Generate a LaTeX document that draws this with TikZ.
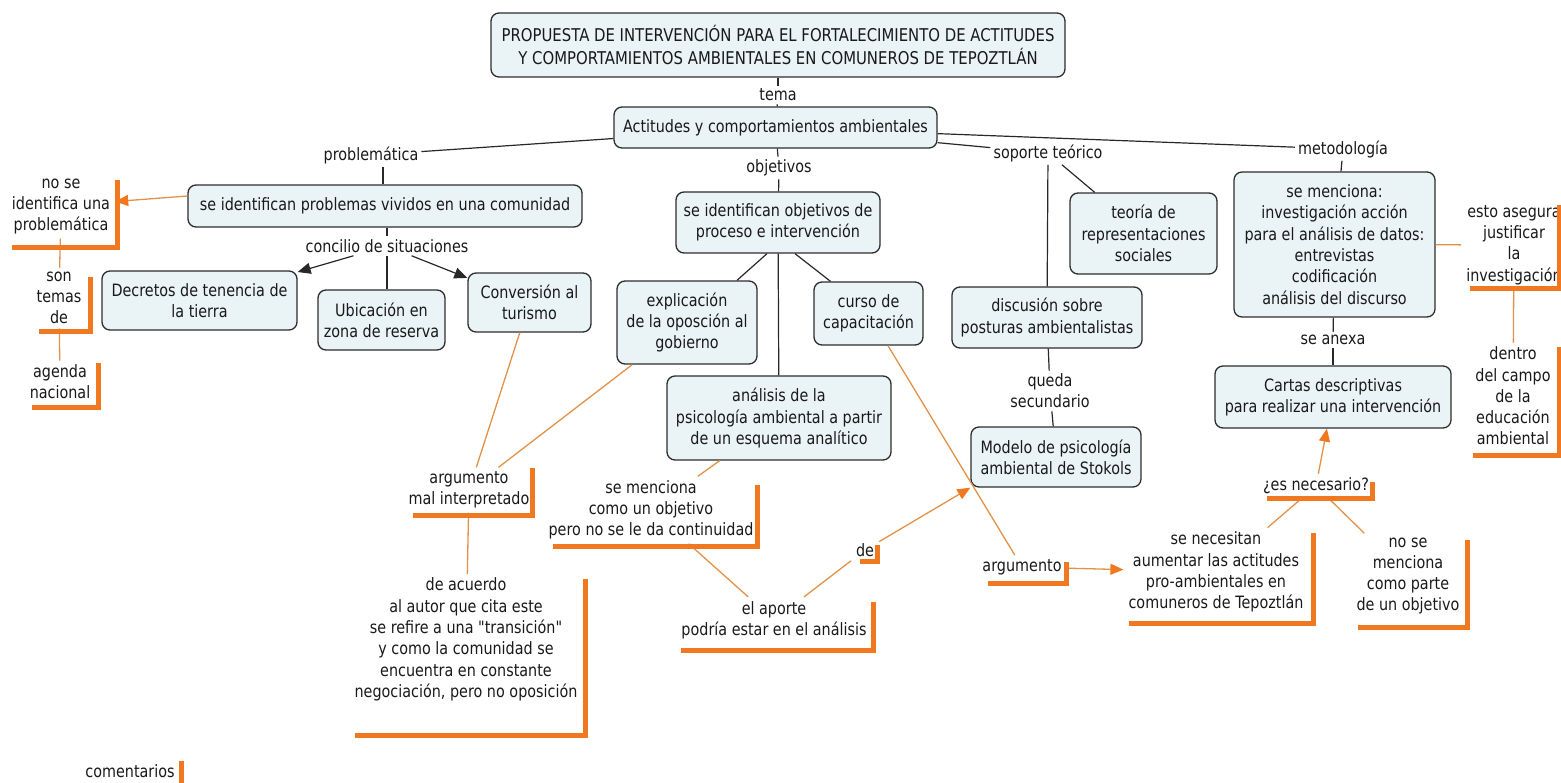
\documentclass[tikz,border=0pt]{standalone}
\usepackage{fontspec}
\setmainfont[FakeStretch=0.845, Ligatures=TeXOff]{DejaVu Sans}
\usetikzlibrary{arrows.meta,calc}
\definecolor{boxfill}{RGB}{234,243,246}
\definecolor{boxline}{RGB}{45,45,45}
\definecolor{txt}{RGB}{25,25,25}
\definecolor{obarc}{RGB}{240,120,32}
\definecolor{olinec}{RGB}{226,146,72}
\definecolor{blinec}{RGB}{40,40,40}
\newcommand{\obr}[4]{\draw[obarst] (#1,#2) -- (#1,#3) -- (#4,#3);}
\begin{document}
\begin{tikzpicture}[x=1pt,y=-1pt,
  every node/.style={font=\fontsize{17}{21.3}\selectfont, text=txt},
  cbox/.style={draw=boxline, fill=boxfill, rounded corners=8pt, line width=1.3pt, align=center, inner sep=2pt},
  lab/.style={align=center, inner sep=3pt},
  olab/.style={align=center, inner xsep=5pt, inner ysep=4pt},
  bl/.style={draw=blinec, line width=1.2pt},
  ol/.style={draw=olinec, line width=1.3pt},
  barr/.style={-{Triangle[length=13pt,width=11pt]}},
  oarr/.style={-{Triangle[length=13pt,width=11pt,color=obarc]}},
  obarst/.style={draw=obarc, line width=5pt, line join=miter},
]
\path[use as bounding box] (0,0) rectangle (1561,782);
\clip (0,0) rectangle (1561,782);

% concept boxes
\node[cbox, minimum width=574, minimum height=64, font=\fontsize{17.6}{22.5}\selectfont] (title) at (778,45) {PROPUESTA DE INTERVENCIÓN PARA EL FORTALECIMIENTO DE ACTITUDES\\Y COMPORTAMIENTOS AMBIENTALES EN COMUNEROS DE TEPOZTLÁN};
\node[cbox, minimum width=323, minimum height=41] (act) at (775.5,127.5) {Actitudes y comportamientos ambientales};
\node[cbox, minimum width=394, minimum height=42] (prob) at (385,206) {se identifican problemas vividos en una comunidad};
\node[cbox, minimum width=204, minimum height=61] (objbox) at (778,222.5) {se identifican objetivos de\\proceso e intervención};
\node[cbox, minimum width=147, minimum height=81] (teoria) at (1143.5,233.5) {teoría de\\representaciones\\sociales};
\node[cbox, minimum width=201, minimum height=145] (metodbox) at (1334.5,244.5) {se menciona:\\investigación acción\\para el análisis de datos:\\entrevistas\\codificación\\análisis del discurso};
\node[cbox, minimum width=195, minimum height=59] (decretos) at (199.5,300.5) {Decretos de tenencia de\\la tierra};
\node[cbox, minimum width=127, minimum height=60] (ubic) at (381.5,320) {Ubicación en\\zona de reserva};
\node[cbox, minimum width=123, minimum height=59] (conv) at (529.5,302.5) {Conversión al\\turismo};
\node[cbox, minimum width=140, minimum height=83] (expl) at (687,322.5) {explicación\\de la oposción al\\gobierno};
\node[cbox, minimum width=109, minimum height=63] (curso) at (868.5,313.5) {curso de\\capacitación};
\node[cbox, minimum width=224, minimum height=84] (anal) at (779,418) {análisis de la\\psicología ambiental a partir\\de un esquema analítico};
\node[cbox, minimum width=190, minimum height=61] (discusion) at (1047,317.5) {discusión sobre\\posturas ambientalistas};
\node[cbox, minimum width=170, minimum height=60] (modelo) at (1056,457) {Modelo de psicología\\ambiental de Stokols};
\node[cbox, minimum width=236, minimum height=62] (cartas) at (1333,397) {Cartas descriptivas\\para realizar una intervención};

% black linking phrases
\node[lab] (tema) at (778,95) {tema};
\node[lab] (problematica) at (371,155) {problemática};
\node[lab] (objetivos) at (779,168) {objetivos};
\node[lab] (soporte) at (1048,153) {soporte teórico};
\node[lab] (metodologia) at (1343,149) {metodología};
\node[lab] (concilio) at (387,246) {concilio de situaciones};
\node[lab] (queda) at (1050,391) {queda\\secundario};
\node[lab] (anexa) at (1333,340) {se anexa};

% orange linking phrases
\node[olab] (noident) at (61,206.5) {no se\\identifica una\\problemática};
\node[olab] (sontemas) at (59,298) {son\\temas\\de};
\node[olab] (agenda) at (60,382) {agenda\\nacional};
\node[olab] (argmal) at (469,490) {argumento\\mal interpretado};
\node[olab] (deacuerdo) at (466,639.5) {de acuerdo\\al autor que cita este\\se refire a una "transición"\\y como la comunidad se\\encuentra en constante\\negociación, pero no oposición};
\node[olab] (semenciona) at (651,510) {se menciona\\como un objetivo\\pero no se le da continuidad};
\node[olab] (elaporte) at (774,620) {el aporte\\podría estar en el análisis};
\node[olab] (de) at (865,550) {de};
\node[olab] (argumento) at (1022,567) {argumento};
\node[olab] (esnec) at (1316,486) {¿es necesario?};
\node[olab] (senecesitan) at (1216,572) {se necesitan\\aumentar las actitudes\\pro-ambientales en\\comuneros de Tepoztlán};
\node[olab] (nosemenc) at (1408,576) {no se\\menciona\\como parte\\de un objetivo};
\node[olab] (esto) at (1514,245) {esto asegura\\justificar\\la\\investigación};
\node[olab] (dentro) at (1513,396) {dentro\\del campo\\de la\\educación\\ambiental};
\node[olab] (comentarios) at (130,771) {comentarios};

% black connectors
\draw[bl] (title) -- (tema);
\draw[bl] (tema) -- (act);
\draw[bl] (act) -- (problematica);
\draw[bl] ([xshift=12pt]problematica.south) -- ([xshift=-2pt]prob.north);
\draw[bl] (act) -- (objetivos);
\draw[bl] (objetivos) -- (objbox);
\draw[bl] (act) -- (soporte);
\draw[bl] (soporte) -- (discusion);
\draw[bl] (soporte) -- (teoria);
\draw[bl] (act) -- (metodologia);
\draw[bl] (metodologia) -- (metodbox);
\draw[bl] (prob.south -| concilio) -- (concilio);
\draw[bl] (concilio.south) -- (concilio.south |- ubic.north);
\draw[bl, barr] (concilio) -- (decretos);
\draw[bl, barr] (concilio) -- (conv);
\draw[bl] ([xshift=-11pt]objbox.south) -- ([xshift=50pt]expl.north);
\draw[bl] (objbox) -- (anal);
\draw[bl] ([xshift=17pt]objbox.south) -- ([xshift=-38pt]curso.north);
\draw[bl] (discusion) -- (queda);
\draw[bl] (queda) -- (modelo);
\draw[bl] (metodbox) -- (anexa);
\draw[bl] (anexa) -- (cartas);

% orange connectors
\draw[ol, oarr] ([yshift=10pt]prob.west) -- ([yshift=5pt]noident.east);
\draw[ol] (noident) -- (sontemas);
\draw[ol] (sontemas) -- (agenda);
\draw[ol] (conv) -- (argmal);
\draw[ol] (expl) -- (argmal);
\draw[ol] (argmal) -- (deacuerdo);
\draw[ol] (anal) -- (semenciona);
\draw[ol] (semenciona) -- (elaporte);
\draw[ol] (elaporte) -- (de);
\draw[ol, oarr] (de) -- (modelo.south west);
\draw[ol] (curso) -- (argumento);
\draw[ol, oarr] (argumento) -- (senecesitan);
\draw[ol, oarr] (esnec) -- (cartas);
\draw[ol] (esnec) -- (senecesitan);
\draw[ol] (esnec) -- (nosemenc);
\draw[ol] (metodbox) -- (esto);
\draw[ol] (esto) -- (dentro);

% orange brackets
\obr{117}{180}{247}{12}
\obr{90}{277}{331}{39}
\obr{98}{363}{407}{32}
\obr{532}{468}{515}{413}
\obr{585}{579}{735}{355}
\obr{757}{485}{546}{553}
\obr{873}{602}{650}{681}
\obr{877}{545}{561}{860}
\obr{1066}{562}{583}{988}
\obr{1372}{482}{498}{1267}
\obr{1313}{533}{623}{1129}
\obr{1467}{540}{627}{1358}
\obr{1559}{205}{288}{1470}
\obr{1559}{347}{455}{1473}
\obr{181}{761}{800}{181}
\end{tikzpicture}
\end{document}
